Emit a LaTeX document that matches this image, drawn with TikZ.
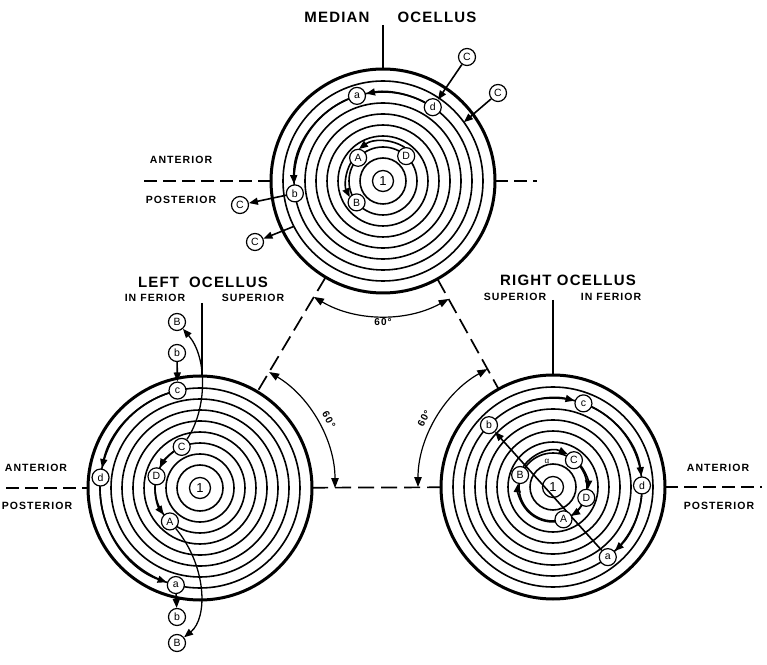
\documentclass[tikz,border=0pt]{standalone}
\usepackage{fontspec}
\setmainfont{Liberation Sans}
\usetikzlibrary{arrows.meta,calc}
\newfontfamily\lblfont[LetterSpace=10]{Liberation Sans Bold}
\newfontfamily\ttlfont[LetterSpace=8]{Liberation Sans Bold}
\tikzset{
  ring/.style={line width=1.6pt},
  outer/.style={line width=3pt},
  arr/.style={line width=1.6pt,-{Triangle[length=9pt,width=7pt]}},
  axis/.style={line width=1.6pt,dash pattern=on 13pt off 6pt},
  tri/.style={line width=1.7pt,dash pattern=on 16pt off 7pt},
  ang/.style={line width=1.2pt,{Triangle[length=10pt,width=7.5pt]}-{Triangle[length=10pt,width=7.5pt]}},
  lt/.style={circle,draw,line width=1.2pt,fill=white,inner sep=0pt,minimum size=17pt,font=\fontsize{10.5}{10.5}\selectfont},
  one/.style={circle,draw,line width=1.3pt,fill=white,inner sep=0pt,minimum size=21pt,font=\fontsize{13}{13}\selectfont},
  ttl/.style={font=\ttlfont\fontsize{15}{16}\selectfont},
  sub/.style={font=\lblfont\fontsize{10.5}{12}\selectfont},
  deg/.style={font=\lblfont\fontsize{10}{10}\selectfont}
}
\begin{document}
\begin{tikzpicture}[x=1pt,y=1pt]
\useasboundingbox (0,0) rectangle (767,664);
\fill[white] (0,0) rectangle (767,664);
\coordinate (M) at (383,483);
\coordinate (L) at (200,176);
\coordinate (R) at (553,177);

% rings
\foreach \c in {M,L,R}{
  \foreach \r in {23,34,45,56,67,78,89,100}{
    \draw[ring] (\c) circle[radius=\r];
  }
  \draw[outer] (\c) circle[radius=112];
}

% triangle dashed lines between ocelli
\coordinate (tML1) at ($(M)!112pt!(L)$);
\coordinate (tML2) at ($(L)!112pt!(M)$);
\coordinate (tMR1) at ($(M)!112pt!(R)$);
\coordinate (tMR2) at ($(R)!112pt!(M)$);
\coordinate (tLR1) at ($(L)!112pt!(R)$);
\coordinate (tLR2) at ($(R)!112pt!(L)$);
\draw[tri] (tML1) -- (tML2);
\draw[tri] (tMR1) -- (tMR2);
\draw[tri] (tLR1) -- (tLR2);

% angle arcs
\draw[ang] ($(M)+(239.2:135)$) arc[start angle=239.2,end angle=299.1,radius=135];
\draw[ang] ($(L)+(59.2:135)$) arc[start angle=59.2,end angle=0,radius=135];
\draw[ang] ($(R)+(180:135)$) arc[start angle=180,end angle=119.1,radius=135];
\node[deg] (g1) at (383,342) {60°};
\node[deg,rotate=-62] (g2) at ($(L)+(28:146)$) {60°};
\node[deg,rotate=62] (g3) at ($(R)+(152:146)$) {60°};

% axis lines
\coordinate (mv1) at (383,639);
\coordinate (mv2) at (383,595);
\draw[line width=1.4pt] (mv1) -- (mv2);
\coordinate (mh1) at (144,483);
\coordinate (mh2) at (271,483);
\coordinate (mh3) at (495,483);
\coordinate (mh4) at (537,483);
\draw[axis] (mh1) -- (mh2);
\draw[axis] (mh3) -- (mh4);
\coordinate (lv1) at (202,361);
\coordinate (lv2) at (202,288);
\draw[line width=1.4pt] (lv1) -- (lv2);
\coordinate (lh1) at (6,176);
\coordinate (lh2) at (88,176);
\draw[axis] (lh1) -- (lh2);
\coordinate (rv1) at (553,364);
\coordinate (rv2) at (553,289);
\draw[line width=1.4pt] (rv1) -- (rv2);
\coordinate (rh1) at (665,177);
\coordinate (rh2) at (762,177);
\draw[axis] (rh1) -- (rh2);

% labels
\node[ttl] (tm1) at (337,647) {MEDIAN};
\node[ttl] (tm2) at (437,647) {OCELLUS};
\node[sub] (ma1) at (181,504) {ANTERIOR};
\node[sub] (mp1) at (181,464) {POSTERIOR};
\node[ttl] (tl1) at (203,382) {LEFT\hspace{10pt}OCELLUS};
\node[sub] (tl2) at (155,366) {IN FERIOR};
\node[sub] (tl3) at (253,366) {SUPERIOR};
\node[ttl] (tr1) at (568,384) {RIGHT OCELLUS};
\node[sub] (tr2) at (515,367) {SUPERIOR};
\node[sub] (tr3) at (611,367) {IN FERIOR};
\node[sub] (la1) at (36,196) {ANTERIOR};
\node[sub] (lp1) at (37,158) {POSTERIOR};
\node[sub] (ra1) at (718,196) {ANTERIOR};
\node[sub] (rp1) at (719,158) {POSTERIOR};

% ---------- median ocellus ----------
\node[lt] (ma) at ($(M)+(107:89)$) {a};
\node[lt] (md) at ($(M)+(56:89)$) {d};
\node[lt] (mb) at ($(M)+(188:89)$) {b};
\node[lt] (mA) at ($(M)+(137:34)$) {A};
\node[lt] (mD) at ($(M)+(47:34)$) {D};
\node[lt] (mB) at ($(M)+(219:34)$) {B};
\node[lt] (mC1) at (467,607) {C};
\node[lt] (mC2) at (498,571) {C};
\node[lt] (mC3) at (240,459) {C};
\node[lt] (mC4) at (255,422) {C};
\node[one] (m1) at (M) {1};
\coordinate (mp2) at ($(M)+(36:100)$);
\coordinate (mp3) at ($(M)+(207:100)$);
\draw[arr] ($(M)+(62:89)$) arc[start angle=62,end angle=101,radius=89];
\draw[arr] ($(M)+(113:89)$) arc[start angle=113,end angle=182,radius=89];
\draw[arr] ($(M)+(57:40)$) arc[start angle=57,end angle=127,radius=40];
\draw[arr] ($(M)+(150:37)$) arc[start angle=150,end angle=206,radius=37];
\draw[arr] (mC1) -- (md);
\draw[arr] (mC2) -- (mp2);
\draw[arr] (mb) -- (mC3);
\draw[arr] (mp3) -- (mC4);

% ---------- left ocellus ----------
\draw[arr] (L) ++(108.5:100) arc[start angle=108.5,end angle=168.5,radius=100];
\draw[arr] (L) ++(179.5:100) arc[start angle=179.5,end angle=250.5,radius=100];
\draw[arr] (L) ++(125.5:45) arc[start angle=125.5,end angle=153.5,radius=45];
\draw[arr] (L) ++(176.5:45) arc[start angle=176.5,end angle=216.5,radius=45];
\node[lt] (lc) at ($(L)+(103:100)$) {c};
\node[lt] (ld) at ($(L)+(174:100)$) {d};
\node[lt] (la) at ($(L)+(256:100)$) {a};
\node[lt] (lC) at ($(L)+(114:45)$) {C};
\node[lt] (lD) at ($(L)+(165:45)$) {D};
\node[lt] (lA) at ($(L)+(228:45)$) {A};
\node[lt] (lB1) at (177,342) {B};
\node[lt] (lb1) at (177,311) {b};
\node[lt] (lb2) at (177,47) {b};
\node[lt] (lB2) at (177,21) {B};
\node[one] (l1) at (L) {1};
\draw[arr] (lb1) -- (lc);
\draw[arr] (la) -- (lb2);
\draw[line width=1.3pt,-{Triangle[length=9pt,width=7pt]}] (lC) .. controls (207,254) and (208,306) .. (lB1);
\draw[line width=1.3pt,-{Triangle[length=9pt,width=7pt]}] (lA) .. controls (207,98) and (208,46) .. (lB2);

% ---------- right ocellus ----------
\draw[arr] (R) ++(115:89) arc[start angle=115,end angle=76,radius=89];
\draw[arr] (R) ++(64:89) arc[start angle=64,end angle=7,radius=89];
\draw[arr] (R) ++(-5:89) arc[start angle=-5,end angle=-46,radius=89];
\draw[arr] (R) ++(146:36) arc[start angle=146,end angle=66,radius=36];
\draw[arr] (R) ++(38:35) arc[start angle=38,end angle=-4,radius=35];
\draw[arr] (R) ++(-32:34) arc[start angle=-32,end angle=-58,radius=34];
\draw[arr] (R) ++(-86:35) arc[start angle=-86,end angle=-186,radius=35];
\node[lt] (rc) at ($(R)+(70:89)$) {c};
\node[lt] (rd) at ($(R)+(1:89)$) {d};
\node[lt] (ra) at ($(R)+(-52:89)$) {a};
\node[lt] (rb) at ($(R)+(136:89)$) {b};
\node[one] (r1) at (R) {1};
\draw[arr] (ra) -- (rb);
\node[lt] (rC) at ($(R)+(52:34)$) {C};
\node[lt] (rD) at ($(R)+(-18:35)$) {D};
\node[lt] (rA) at ($(R)+(-72:34)$) {A};
\node[lt] (rB) at ($(R)+(160:35)$) {B};
\node[font=\fontsize{8}{8}\selectfont] (ral) at (547,203) {α};
\end{tikzpicture}
\end{document}
